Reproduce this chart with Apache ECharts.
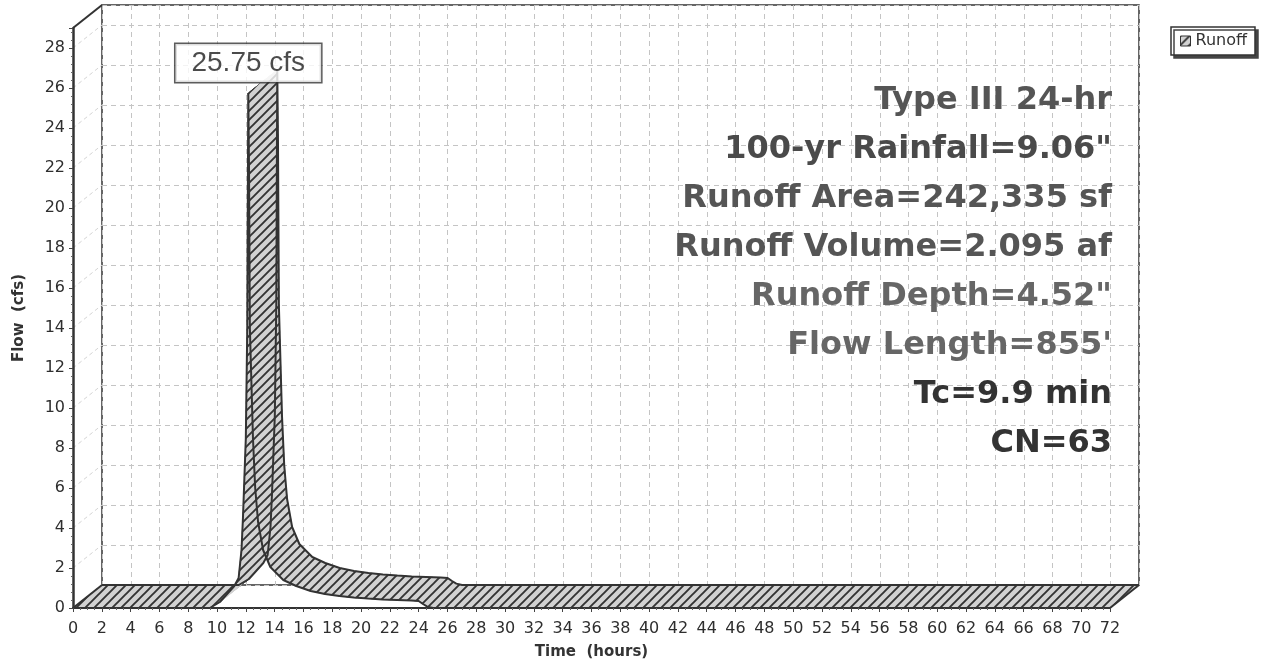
<!DOCTYPE html>
<html lang="en">
<head>
  <meta charset="UTF-8">
  <title>Runoff hydrograph</title>
  <script src="https://cdn.jsdelivr.net/npm/echarts@6/dist/echarts.min.js"></script>
  <style>
    html, body { margin: 0; padding: 0; background: #fff; }
    #main { width: 1267px; height: 668px; }
  </style>
</head>
<body>

<div id="main"></div>

<script>
  // hydrograph (hours, cfs)
  var times = [0, 9.5, 10.2, 10.7, 11.2, 11.5, 11.7, 11.8, 11.9, 12.0,
    12.1, 12.17, 12.22, 12.28, 12.5, 12.65, 12.85, 13.2, 13.7, 14.6,
    15.5, 16.5, 17.5, 18.5, 19.5, 20.5, 21.5, 22.5, 23.5, 24.0,
    24.3, 24.6, 25.0, 72];
  var flows = [0, 0, 0.3, 0.7, 1.1, 1.5, 2.9, 4.5, 6.5, 8.5,
    14, 25.75, 22, 14, 8.4, 6.0, 4.3, 2.9, 2.05, 1.4,
    1.1, 0.85, 0.7, 0.6, 0.52, 0.47, 0.43, 0.4, 0.37, 0.35,
    0.2, 0.07, 0, 0];
  var seriesName = 'Runoff';
  var peakFlow = 25.75;
  var peakTime = 12.17;
  var xMax = 72, yMax = 29, tickStep = 2;
  var yTicks = [0, 2, 4, 6, 8, 10, 12, 14, 16, 18, 20, 22, 24, 26, 28];
  var infoLines = ['Type III 24-hr', '100-yr Rainfall=9.06"', 'Runoff Area=242,335 sf',
    'Runoff Volume=2.095 af', 'Runoff Depth=4.52"', "Flow Length=855'", 'Tc=9.9 min', 'CN=63'];
  var infoColors = ['#555', '#4a4a4a', '#555', '#555', '#666', '#666', '#333', '#333'];

  // 3d depth of the box
  var DX = 29, DY = -23;

  var points = times.map(function (t, i) { return [t, flows[i]]; });
  var segments = [];
  for (var i = 0; i < times.length - 1; i++) {
    segments.push([times[i], flows[i], times[i + 1], flows[i + 1]]);
  }

  // hatch fill
  var S = 9;
  var cv = document.createElement('canvas');
  cv.width = S; cv.height = S;
  var ctx = cv.getContext('2d');
  ctx.fillStyle = '#d2d2d2';
  ctx.fillRect(0, 0, S, S);
  ctx.strokeStyle = '#333';
  ctx.lineWidth = 1.9;
  ctx.beginPath();
  ctx.moveTo(0, S); ctx.lineTo(S, 0);
  ctx.moveTo(-2, 2); ctx.lineTo(2, -2);
  ctx.moveTo(S - 2, S + 2); ctx.lineTo(S + 2, S - 2);
  ctx.stroke();
  var hatch = { image: cv, repeat: 'repeat' };

  var tickFont = { fontFamily: 'DejaVu Sans', fontSize: 16, color: '#2e2e2e' };

  var graphics = infoLines.map(function (txt, i) {
    return {
      type: 'text', x: 1112, y: 101 + i * 49, z: 20,
      style: { text: txt, font: 'bold 32px "DejaVu Sans"', fill: infoColors[i], align: 'right', verticalAlign: 'middle' }
    };
  });

  var chart = echarts.init($('#main'));
  chart.setOption({
    animation: false,
    graphic: graphics,
    legend: {
      data: [seriesName],
      left: 1171, top: 27,
      icon: 'rect', itemWidth: 10, itemHeight: 10,
      padding: [6, 8, 6, 9],
      backgroundColor: '#fff',
      borderColor: '#333', borderWidth: 1.5,
      shadowColor: '#444', shadowOffsetX: 3, shadowOffsetY: 3, shadowBlur: 0,
      itemStyle: { borderColor: '#333', borderWidth: 1 },
      textStyle: { fontFamily: 'DejaVu Sans', fontSize: 16, color: '#333' }
    },
    grid: [
      { left: 73, right: 157, top: 28, bottom: 60 },
      { left: 73 + DX, right: 157 - DX, top: 28 + DY, bottom: 60 - DY, show: true, borderColor: '#333', borderWidth: 1.5, z: 0 }
    ],
    xAxis: [{
      type: 'value', min: 0, max: xMax, interval: tickStep, z: 10,
      name: 'Time  (hours)', nameLocation: 'middle', nameGap: 37,
      nameTextStyle: { fontFamily: 'DejaVu Sans', fontSize: 15, fontWeight: 'bold', color: '#333' },
      axisLine: { lineStyle: { color: '#333', width: 2 } },
      axisTick: { length: 4, lineStyle: { color: '#444' } },
      minorTick: { show: true, splitNumber: 4, length: 2, lineStyle: { color: '#666' } },
      splitLine: { show: false },
      axisLabel: Object.assign({ margin: 13 }, tickFont)
    }, {
      type: 'value', gridIndex: 1, min: 0, max: xMax, interval: tickStep,
      axisLine: { show: false }, axisTick: { show: false }, axisLabel: { show: false },
      splitLine: { lineStyle: { color: '#c4c4c4', type: [5, 4] } }
    }],
    yAxis: [{
      type: 'value', min: 0, max: yMax, interval: tickStep, z: 10,
      name: 'Flow  (cfs)', nameLocation: 'middle', nameGap: 46,
      nameTextStyle: { fontFamily: 'DejaVu Sans', fontSize: 15, fontWeight: 'bold', color: '#333' },
      axisLine: { show: true, lineStyle: { color: '#333', width: 2.5 } },
      axisTick: { show: true, length: 4, lineStyle: { color: '#444' } },
      minorTick: { show: true, splitNumber: 5, length: 2, lineStyle: { color: '#666' } },
      splitLine: { show: false },
      axisLabel: Object.assign({ margin: 8, showMaxLabel: false }, tickFont)
    }, {
      type: 'value', gridIndex: 1, min: 0, max: yMax, interval: tickStep,
      axisLine: { show: false }, axisTick: { show: false }, axisLabel: { show: false },
      splitLine: { lineStyle: { color: '#c4c4c4', type: [5, 4] } }
    }],
    series: [
      {
        // faint lines on the side wall
        type: 'custom', silent: true, z: 1,
        data: yTicks.map(function (v) { return [0, v]; }),
        renderItem: function (params, api) {
          var p = api.coord([api.value(0), api.value(1)]);
          return { type: 'line', shape: { x1: p[0], y1: p[1], x2: p[0] + DX, y2: p[1] + DY },
            style: { stroke: '#d4d4d4', lineWidth: 1, lineDash: [4, 3] } };
        }
      },
      {
        name: seriesName,
        type: 'custom', z: 2,
        itemStyle: { color: hatch, borderColor: '#333', borderWidth: 1 },
        encode: { x: [0, 2], y: [1, 3] },
        data: segments,
        renderItem: function (params, api) {
          var f0 = api.coord([api.value(0), api.value(1)]);
          var f1 = api.coord([api.value(2), api.value(3)]);
          return {
            type: 'polygon',
            shape: { points: [f0, f1, [f1[0] + DX, f1[1] + DY], [f0[0] + DX, f0[1] + DY]] },
            style: { fill: hatch, stroke: hatch, lineWidth: 1 }
          };
        }
      },
      {
        // front edge of the ribbon
        type: 'line', silent: true, z: 3, symbol: 'none',
        data: points,
        lineStyle: { color: '#333', width: 2 }
      },
      {
        // back edge of the ribbon
        type: 'line', silent: true, z: 3, symbol: 'none',
        xAxisIndex: 1, yAxisIndex: 1,
        data: points,
        lineStyle: { color: '#333', width: 2 }
      },
      {
        // box corners
        type: 'custom', silent: true, z: 4,
        data: [[0, yMax], [0, 0], [xMax, 0]],
        renderItem: function (params, api) {
          var p = api.coord([api.value(0), api.value(1)]);
          return { type: 'line', shape: { x1: p[0], y1: p[1], x2: p[0] + DX, y2: p[1] + DY },
            style: { stroke: '#333', lineWidth: 2 } };
        }
      },
      {
        type: 'scatter', silent: true, z: 8,
        symbolSize: 0,
        data: [[peakTime, peakFlow]],
        label: {
          show: true, position: 'top', distance: 11,
          formatter: function (p) { return p.value[1].toFixed(2) + ' cfs'; },
          fontFamily: 'Liberation Sans', fontSize: 28, lineHeight: 30, color: '#1e1e1e',
          backgroundColor: '#fff', borderColor: '#333', borderWidth: 1.5,
          padding: [4, 16]
        }
      }
    ]
  });

  function $(dom) {
    return document.querySelector(dom)
  }
</script>
</body>
</html>
